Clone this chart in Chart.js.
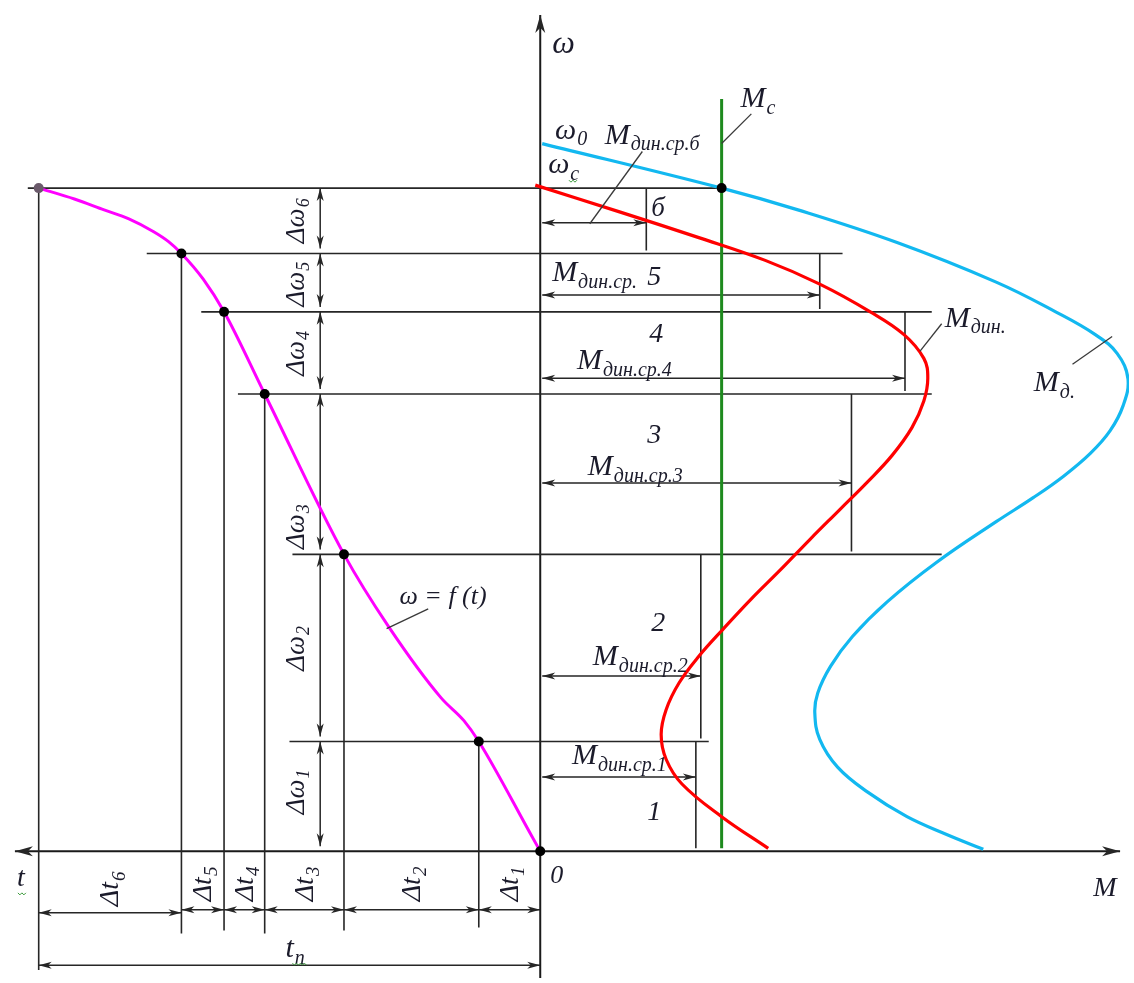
<!DOCTYPE html>
<html lang="ru">
<head>
<meta charset="utf-8">
<title>Графическое интегрирование уравнения движения</title>
<script src="https://cdn.jsdelivr.net/npm/chart.js@4.4.1/dist/chart.umd.min.js"></script>
<style>
  html, body { margin: 0; padding: 0; background: #fff; }
  #box { position: relative; width: 1134px; height: 983px; }
</style>
</head>
<body>
<div id="box"><canvas id="diagram"></canvas></div>
<script>
/* =====================
   DATA
   drawing units: right = M, left = t, up = ω
===================== */

// interval boundaries, index 0 = start of run-up
const omegaNodes = [0, 111, 300, 462, 545, 604, 670];
const tNodes = [0, 62, 198, 278, 319, 362, 506];

// mean dynamic torque on intervals 1..6
const mDynMean = [157, 162, 314, 368, 282, 107];

// static (load) torque Mc
const mStatic = 183;

// ω = f(t)
const runT = [506, 470, 440, 415, 390, 375, 362, 340, 319, 278, 198, 153, 100, 77, 62, 10, 0];
const runW = [670, 659, 648, 639, 626, 616, 604, 578, 545, 462, 300, 227, 155, 132, 111, 18, 0];

// motor torque Mд(ω)
const motorM = [2, 183, 260, 360, 460, 520, 560, 582, 593, 588, 575, 555, 528, 497, 460, 400, 350, 315, 293, 280, 277, 282, 300, 330, 370, 410, 447];
const motorW = [715, 670, 648, 615, 575, 545, 522, 503, 477, 450, 425, 402, 379, 357, 333, 292, 252, 217, 187, 160, 140, 113, 85, 60, 35, 17, 2];

// dynamic torque Mдин(ω) = Mд - Mc
const dynM = [-5, 80, 160, 227, 282, 333, 367, 387, 391, 387, 375, 355, 330, 302, 272, 242, 213, 185, 160, 140, 127, 122, 127, 143, 183, 230];
const dynW = [673, 646, 620, 597, 573, 545, 522, 498, 478, 455, 428, 400, 373, 345, 315, 284, 255, 225, 197, 170, 143, 118, 93, 68, 35, 3];

/* =====================
   LAYOUT
===================== */

const X_RANGE = [-540, 594];
const Y_RANGE = [-128, 855];

const levelSpan = [[-253, 170], [-250, 405], [-305, 395], [-342, 395], [-397, 305], [-517, mStatic]];
const tLineBottom = [-77, -80, -83, -80, -83, -120];
const torqueArrowY = [75, 177, 372, 478, 562, 635];
const dtArrowY = [-59, -59, -59, -59, -59, -62];
const dtLabelY = [-33, -33, -33, -33, -33, -38];
const dwLabelY = [60, 205, 328, 503, 573, 637];
const dwArrowX = -222;
const dwLabelX = -247;
const tpArrowY = -115;

const INK = '#262626';
const TEXT = '#1b1b2b';
const SERIF = '"Liberation Serif", "DejaVu Serif", serif';

// x, y (baseline), text, subscript, size
const labels = [
  [12, 807, 'ω', '', 32],
  [15, 720, 'ω', '0', 30],
  [8, 685, 'ω', 'c', 30],
  [202, 752, 'M', 'c', 30],
  [65, 715, 'M', 'дин.ср.б', 30],
  [112, 642, 'б', '', 27],
  [12, 576, 'M', 'дин.ср.', 30],
  [108, 572, '5', '', 28],
  [110, 515, '4', '', 28],
  [37, 487, 'M', 'дин.ср.4', 30],
  [108, 413, '3', '', 28],
  [48, 380, 'M', 'дин.ср.3', 30],
  [112, 223, '2', '', 28],
  [53, 188, 'M', 'дин.ср.2', 30],
  [32, 88, 'M', 'дин.ср.1', 30],
  [108, 32, '1', '', 28],
  [408, 530, 'M', 'дин.', 30],
  [498, 465, 'M', 'д.', 30],
  [-142, 250, 'ω = f (t)', '', 26],
  [-528, -35, 't', '', 28],
  [10, -32, '0', '', 26],
  [558, -45, 'M', '', 28],
  [-257, -107, 't', 'п', 30]
];

// leader lines from a curve to its name
const leaders = [
  [183, 715, 213, 745],
  [50, 634, 103, 707],
  [383, 505, 405, 533],
  [537, 492, 577, 520],
  [-155, 225, -113, 245]
];

/* =====================
   HELPERS
===================== */

function curve(xs, ys) {
  return xs.map((x, i) => ({ x: x, y: ys[i] }));
}

function segs(list) {
  const out = [];
  list.forEach(([x0, y0, x1, y1]) => {
    out.push({ x: x0, y: y0 }, { x: x1, y: y1 }, { x: x1, y: null });
  });
  return out;
}

const levelLines = [];
const tLines = [];
const mLines = [];
for (let i = 1; i <= 6; i++) {
  levelLines.push([levelSpan[i - 1][0], omegaNodes[i], levelSpan[i - 1][1], omegaNodes[i]]);
  tLines.push([-tNodes[i], omegaNodes[i], -tNodes[i], tLineBottom[i - 1]]);
  mLines.push([mDynMean[i - 1], omegaNodes[i - 1] + 3, mDynMean[i - 1], omegaNodes[i]]);
}

// dimension lines, arrowheads on both ends
const dims = [];
for (let i = 1; i <= 6; i++) {
  dims.push([2, torqueArrowY[i - 1], mDynMean[i - 1], torqueArrowY[i - 1]]);
  dims.push([-tNodes[i - 1], dtArrowY[i - 1], -tNodes[i], dtArrowY[i - 1]]);
  dims.push([dwArrowX, omegaNodes[i - 1] + 5, dwArrowX, omegaNodes[i]]);
}
dims.push([0, tpArrowY, -tNodes[6], tpArrowY]);

const axes = [[-530, 0, 585, 0], [0, -130, 0, 845]];

const dots = [];
for (let i = 0; i <= 6; i++) dots.push({ x: -tNodes[i], y: omegaNodes[i] });
dots.push({ x: mStatic, y: omegaNodes[6] });
const dotColors = dots.map((d, i) => (i === 6 ? '#6b5a6b' : '#000'));

/* =====================
   OVERLAY: arrows + text
===================== */

function head(ctx, tx, ty, fx, fy, len, half) {
  const a = Math.atan2(ty - fy, tx - fx);
  ctx.save();
  ctx.translate(tx, ty);
  ctx.rotate(a);
  ctx.beginPath();
  ctx.moveTo(0, 0);
  ctx.lineTo(-len, -half);
  ctx.lineTo(-len * 0.72, 0);
  ctx.lineTo(-len, half);
  ctx.closePath();
  ctx.fill();
  ctx.restore();
}

function textWidth(ctx, main, sub, size) {
  ctx.font = `italic ${size}px ${SERIF}`;
  let w = ctx.measureText(main).width;
  if (sub) {
    ctx.font = `italic ${Math.round(size * 0.68)}px ${SERIF}`;
    w += ctx.measureText(sub).width + 1;
  }
  return w;
}

function drawText(ctx, x, y, main, sub, size) {
  ctx.textBaseline = 'alphabetic';
  ctx.textAlign = 'left';
  ctx.font = `italic ${size}px ${SERIF}`;
  ctx.fillText(main, x, y);
  if (sub) {
    const w = ctx.measureText(main).width;
    ctx.font = `italic ${Math.round(size * 0.68)}px ${SERIF}`;
    ctx.fillText(sub, x + w + 1, y + size * 0.22);
  }
}

function drawRotated(ctx, cx, cy, main, sub, size) {
  const w = textWidth(ctx, main, sub, size);
  ctx.save();
  ctx.translate(cx, cy);
  ctx.rotate(-Math.PI / 2);
  drawText(ctx, -w / 2, size * 0.3, main, sub, size);
  ctx.restore();
}

function squiggle(ctx, x, y, w) {
  ctx.save();
  ctx.strokeStyle = '#3a9a3a';
  ctx.lineWidth = 1;
  ctx.beginPath();
  for (let i = 0; i <= w; i += 2) ctx.lineTo(x + i, y + (i % 4 ? 2 : 0));
  ctx.stroke();
  ctx.restore();
}

const overlay = {
  id: 'overlay',
  afterDatasetsDraw(chart) {
    const ctx = chart.ctx;
    const sx = chart.scales.x, sy = chart.scales.y;
    const px = v => sx.getPixelForValue(v);
    const py = v => sy.getPixelForValue(v);

    ctx.save();
    ctx.fillStyle = INK;
    dims.forEach(([x0, y0, x1, y1]) => {
      head(ctx, px(x1), py(y1), px(x0), py(y0), 13, 3.5);
      head(ctx, px(x0), py(y0), px(x1), py(y1), 13, 3.5);
    });
    // axis arrows: t to the left, M to the right, ω up
    head(ctx, px(-530), py(0), px(0), py(0), 18, 5);
    head(ctx, px(585), py(0), px(0), py(0), 18, 5);
    head(ctx, px(0), py(845), px(0), py(0), 18, 5);

    ctx.strokeStyle = '#3a3a3a';
    ctx.lineWidth = 1.3;
    leaders.forEach(([x0, y0, x1, y1]) => {
      ctx.beginPath();
      ctx.moveTo(px(x0), py(y0));
      ctx.lineTo(px(x1), py(y1));
      ctx.stroke();
    });

    ctx.fillStyle = TEXT;
    labels.forEach(([x, y, main, sub, size]) => drawText(ctx, px(x), py(y), main, sub, size));

    for (let i = 1; i <= 6; i++) {
      drawRotated(ctx, px(dwLabelX), py(dwLabelY[i - 1]), 'Δω', String(i), 27);
      const mid = -(tNodes[i - 1] + tNodes[i]) / 2;
      drawRotated(ctx, px(mid), py(dtLabelY[i - 1]), 'Δt', String(i), 28);
    }

    squiggle(ctx, px(-527), py(-42), 8);
    squiggle(ctx, px(-250), py(-113), 14);
    squiggle(ctx, px(29), py(678), 8);
    ctx.restore();
  }
};

/* =====================
   CREATE CHART
===================== */

const lineSet = (data, color, width, order, extra) => Object.assign({
  data: data,
  borderColor: color,
  borderWidth: width,
  pointRadius: 0,
  fill: false,
  tension: 0,
  spanGaps: false,
  order: order
}, extra || {});

const ctx = document.getElementById('diagram').getContext('2d');

const chart = new Chart(ctx, {
  type: 'line',
  data: {
    datasets: [
      lineSet(dots, 'transparent', 0, 0, {
        showLine: false,
        pointRadius: 5,
        pointBackgroundColor: dotColors,
        pointBorderWidth: 0
      }),
      lineSet(curve(runT.map(t => -t), runW), '#ff00ff', 3, 1, { cubicInterpolationMode: 'monotone' }),
      lineSet(curve(dynM, dynW), '#ff0000', 3.2, 1, { tension: 0.4 }),
      lineSet(curve(motorM, motorW), '#12b8f0', 3.2, 1, { tension: 0.4 }),
      lineSet([{ x: mStatic, y: 3 }, { x: mStatic, y: 760 }], '#1e8a1e', 3, 1),
      lineSet(segs(levelLines), INK, 1.6, 2),
      lineSet(segs(tLines), INK, 1.6, 2),
      lineSet(segs(mLines), INK, 1.6, 2),
      lineSet(segs(dims), INK, 1.5, 2),
      lineSet(segs(axes), '#1a1a1a', 2, 2)
    ]
  },
  options: {
    responsive: true,
    maintainAspectRatio: false,
    animation: false,
    events: [],
    layout: { padding: 0 },
    plugins: {
      legend: { display: false },
      tooltip: { enabled: false }
    },
    scales: {
      x: { type: 'linear', min: X_RANGE[0], max: X_RANGE[1], display: false },
      y: { type: 'linear', min: Y_RANGE[0], max: Y_RANGE[1], display: false }
    }
  },
  plugins: [overlay]
});
</script>
</body>
</html>
